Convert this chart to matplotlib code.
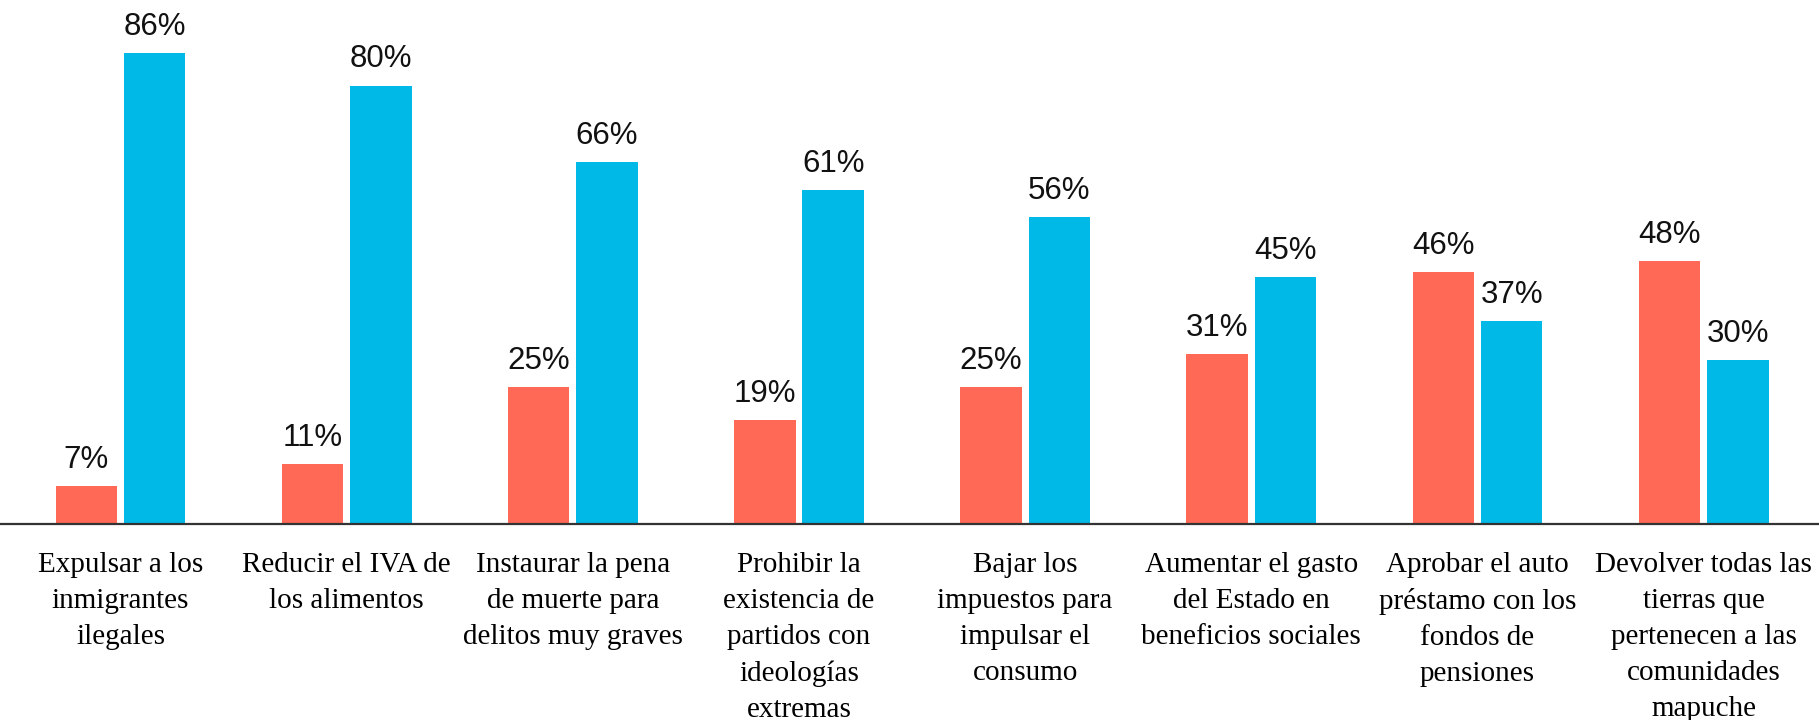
import matplotlib
matplotlib.use("Agg")
import matplotlib.pyplot as plt
import numpy as np

# Datos
categorias = [
    "Expulsar a los\ninmigrantes\nilegales",
    "Reducir el IVA de\nlos alimentos",
    "Instaurar la pena\nde muerte para\ndelitos muy graves",
    "Prohibir la\nexistencia de\npartidos con\nideologías\nextremas",
    "Bajar los\nimpuestos para\nimpulsar el\nconsumo",
    "Aumentar el gasto\ndel Estado en\nbeneficios sociales",
    "Aprobar el auto\npréstamo con los\nfondos de\npensiones",
    "Devolver todas las\ntierras que\npertenecen a las\ncomunidades\nmapuche",
]
serie_roja = [7, 11, 25, 19, 25, 31, 46, 48]
serie_azul = [86, 80, 66, 61, 56, 45, 37, 30]

ROJO = "#FF6955"
AZUL = "#00B9E6"

fig = plt.figure(figsize=(18.19, 7.2), dpi=100)
ax = fig.add_axes([0, 0.272, 1, 0.728])

x = np.arange(len(categorias))
w = 0.272
gap = 0.03
b1 = ax.bar(x - (w + gap) / 2, serie_roja, w, color=ROJO)
b2 = ax.bar(x + (w + gap) / 2, serie_azul, w, color=AZUL)

for barras, vals in ((b1, serie_roja), (b2, serie_azul)):
    for r, v in zip(barras, vals):
        ax.annotate(f"{v}%", (r.get_x() + r.get_width() / 2, r.get_height()),
                    xytext=(0, 8), textcoords="offset points",
                    ha="center", va="bottom", fontsize=22.5,
                    family="Liberation Sans", color="#111111")

ax.set_xlim(-0.533, 7.51)
ax.set_ylim(0, 95.6)
ax.set_yticks([])
ax.set_xticks(x)
ax.set_xticklabels(categorias, family="Liberation Serif", fontsize=21,
                   linespacing=1.5)
ax.tick_params(axis="x", length=0, pad=20)
for s in ("top", "right", "left"):
    ax.spines[s].set_visible(False)
ax.spines["bottom"].set_color("#333333")
ax.spines["bottom"].set_linewidth(1.6)

fig.savefig("out.png", dpi=100)
